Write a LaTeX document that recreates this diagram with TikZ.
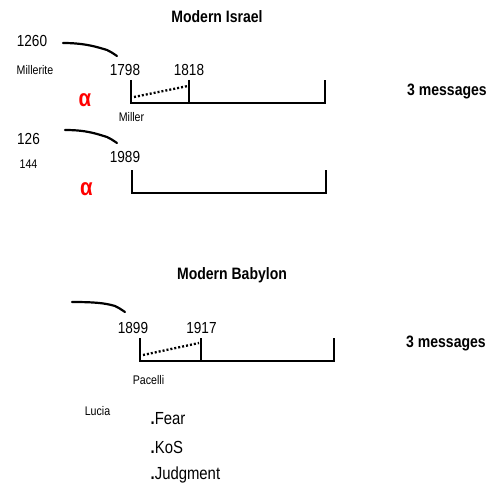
\documentclass[tikz,border=0pt]{standalone}
\usepackage{fontspec}
\setmainfont[FakeStretch=0.85]{Liberation Sans}
\usetikzlibrary{positioning,calc}

\begin{document}
\begin{tikzpicture}[x=1pt,y=-1pt,inner sep=0pt,
  bar/.style={line width=2.7pt},
  dots/.style={line width=2.3pt,dash pattern=on 2pt off 2pt},
  hook/.style={line width=2.2pt,line cap=round},
  yr/.style={font=\fontsize{16}{16}\selectfont},
  tag/.style={font=\fontsize{12.5}{12.5}\selectfont},
  head/.style={font=\bfseries\fontsize{16.5}{16.5}\selectfont},
  alf/.style={text=red,font=\bfseries\fontsize{24}{24}\selectfont},
  pt/.style={font=\fontsize{17.5}{17.5}\selectfont,anchor=west}]
\useasboundingbox (0,0) rectangle (488,489);

\coordinate (c0) at (131,80);
\coordinate (c1) at (325,103);
\coordinate (c2) at (132,170);
\coordinate (c3) at (326,193);
\coordinate (c4) at (140,338);
\coordinate (c5) at (334,361);

\node[head] (israel) at (217,17) {Modern Israel};
\node[head] (babylon) at (232,275) {Modern Babylon};
\node[head] (m0) at (447,91) {3 messages};
\node[head] (m1) at (446,343) {3 messages};

\node[yr] (y1260) at (32,41) {1260};
\node[tag] (millerite) at (35,70) {Millerite};
\node[yr] (y1798) at (125,70) {1798};
\node[yr] (y1818) at (189,70) {1818};
\node[tag] (miller) at (131.5,117) {Miller};
\node[alf] (a0) at (85,100) {α};

\node[yr] (y126) at (28.5,139) {126};
\node[tag] (y144) at (28.5,164.5) {144};
\node[yr] (y1989) at (125,156.5) {1989};
\node[alf] (a1) at (86.5,189) {α};

\node[yr] (y1899) at (133,327.5) {1899};
\node[yr] (y1917) at (201.5,327.5) {1917};
\node[tag] (pacelli) at (148.5,380) {Pacelli};
\node[tag] (lucia) at (97.5,411) {Lucia};
\node[pt] (fear) at (150.5,419) {\textbf{.}Fear};
\node[pt] (kos) at (150.5,447.5) {\textbf{.}KoS};
\node[pt] (judg) at (150.5,475) {\textbf{.}Judgment};

% brackets
\foreach \l/\r in {c0/c1,c2/c3,c4/c5} {
\draw[bar] (\l) |- (\r) -- (\r |- \l);
}
\draw[bar] (189,80) -- (189,103);
\draw[bar] (201,338) -- (201,361);
\draw[dots] (134,97) -- (188,86);
\draw[dots] (143,355) -- (199,343);

% hooks
\coordinate (h0) at (63,43);
\coordinate (h1) at (117,56);
\coordinate (h2) at (65,130);
\coordinate (h3) at (117,143);
\coordinate (h4) at (72,302);
\coordinate (h5) at (125,312);
\foreach \a/\b in {h0/h1,h2/h3,h4/h5} {
\draw[hook] (\a) .. controls ($(\a)+(22,0)$) and ($(\b)+(-20,-9)$) .. ($(\b)+(-10,-6)$)
  .. controls ($(\b)+(-6,-4)$) .. (\b);
}
\end{tikzpicture}
\end{document}
